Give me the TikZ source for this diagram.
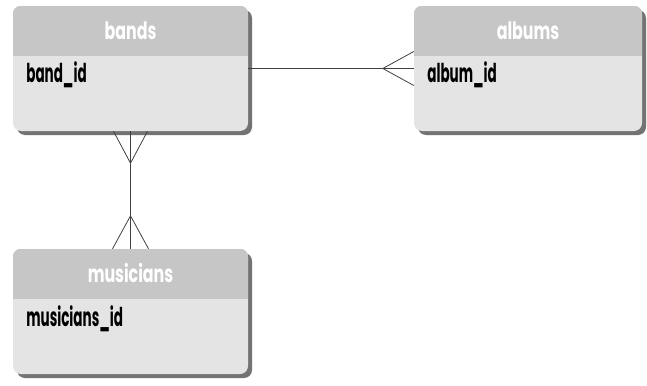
\documentclass[tikz,border=0pt]{standalone}
\usepackage{fontspec}
\newfontfamily\erfont[FakeStretch=0.66]{Poppins}
\newfontfamily\fieldfont[FakeStretch=0.52]{Poppins}
\usetikzlibrary{shadows}
\def\tablehead(#1){\begin{scope}
    \clip[rounded corners=8pt] (#1.north west) rectangle (#1.south east);
    \fill[gray!45] (#1.north west) rectangle ([yshift=-50pt]#1.north east);
  \end{scope}}
\tikzset{
  table/.style={rounded corners=8pt, fill=gray!21, minimum height=125pt, inner sep=0pt,
    drop shadow={shadow xshift=4pt, shadow yshift=-4pt, fill=black!55, opacity=1}},
  title/.style={anchor=base, text=white, font=\erfont\bfseries\fontsize{24}{28}\selectfont},
  field/.style={anchor=base west, text=black, font=\fieldfont\bfseries\fontsize{26}{30}\selectfont},
  link/.style={line width=0.8pt, draw=black!75}
}
\begin{document}
\begin{tikzpicture}[x=1pt, y=-1pt]
  %%%%% START %%%%%
  \useasboundingbox (0, 0) rectangle (647, 385);

  \node[table, minimum width=235pt] (bands) at (130.5, 68.5) {};
  \tablehead(bands)
  \node[title] (bandstitle) at ([yshift=-34pt]bands.north) {bands};
  \node[field] (bandid) at ([xshift=10pt, yshift=-77pt]bands.north west) {band\_id};

  \node[table, minimum width=228pt] (albums) at (528, 68.5) {};
  \tablehead(albums)
  \node[title] (albumstitle) at ([yshift=-34pt]albums.north) {albums};
  \node[field] (albumid) at ([xshift=10pt, yshift=-77pt]albums.north west) {album\_id};

  \node[table, minimum width=235pt] (musicians) at (130.5, 311.5) {};
  \tablehead(musicians)
  \node[title] (musicianstitle) at ([yshift=-34pt]musicians.north) {musicians};
  \node[field] (musiciansid) at ([xshift=10pt, yshift=-78pt]musicians.north west) {musicians\_id};

  % bands -< albums
  \coordinate (albumsfoot) at ([xshift=-31pt]albums.west);
  \draw[link] (bands.east) -- (albums.west);
  \draw[link] ([yshift=17pt]albums.west) -- (albumsfoot) -- ([yshift=-17pt]albums.west);

  % bands >-< musicians
  \coordinate (bandsfoot) at ([yshift=-32pt]bands.south);
  \coordinate (musiciansfoot) at ([yshift=33pt]musicians.north);
  \draw[link] (bands.south) -- (musicians.north);
  \draw[link] ([xshift=-17pt]bands.south) -- (bandsfoot) -- ([xshift=17pt]bands.south);
  \draw[link] ([xshift=-18pt]musicians.north) -- (musiciansfoot) -- ([xshift=18pt]musicians.north);
  %%%%% END %%%%%
\end{tikzpicture}
\end{document}
